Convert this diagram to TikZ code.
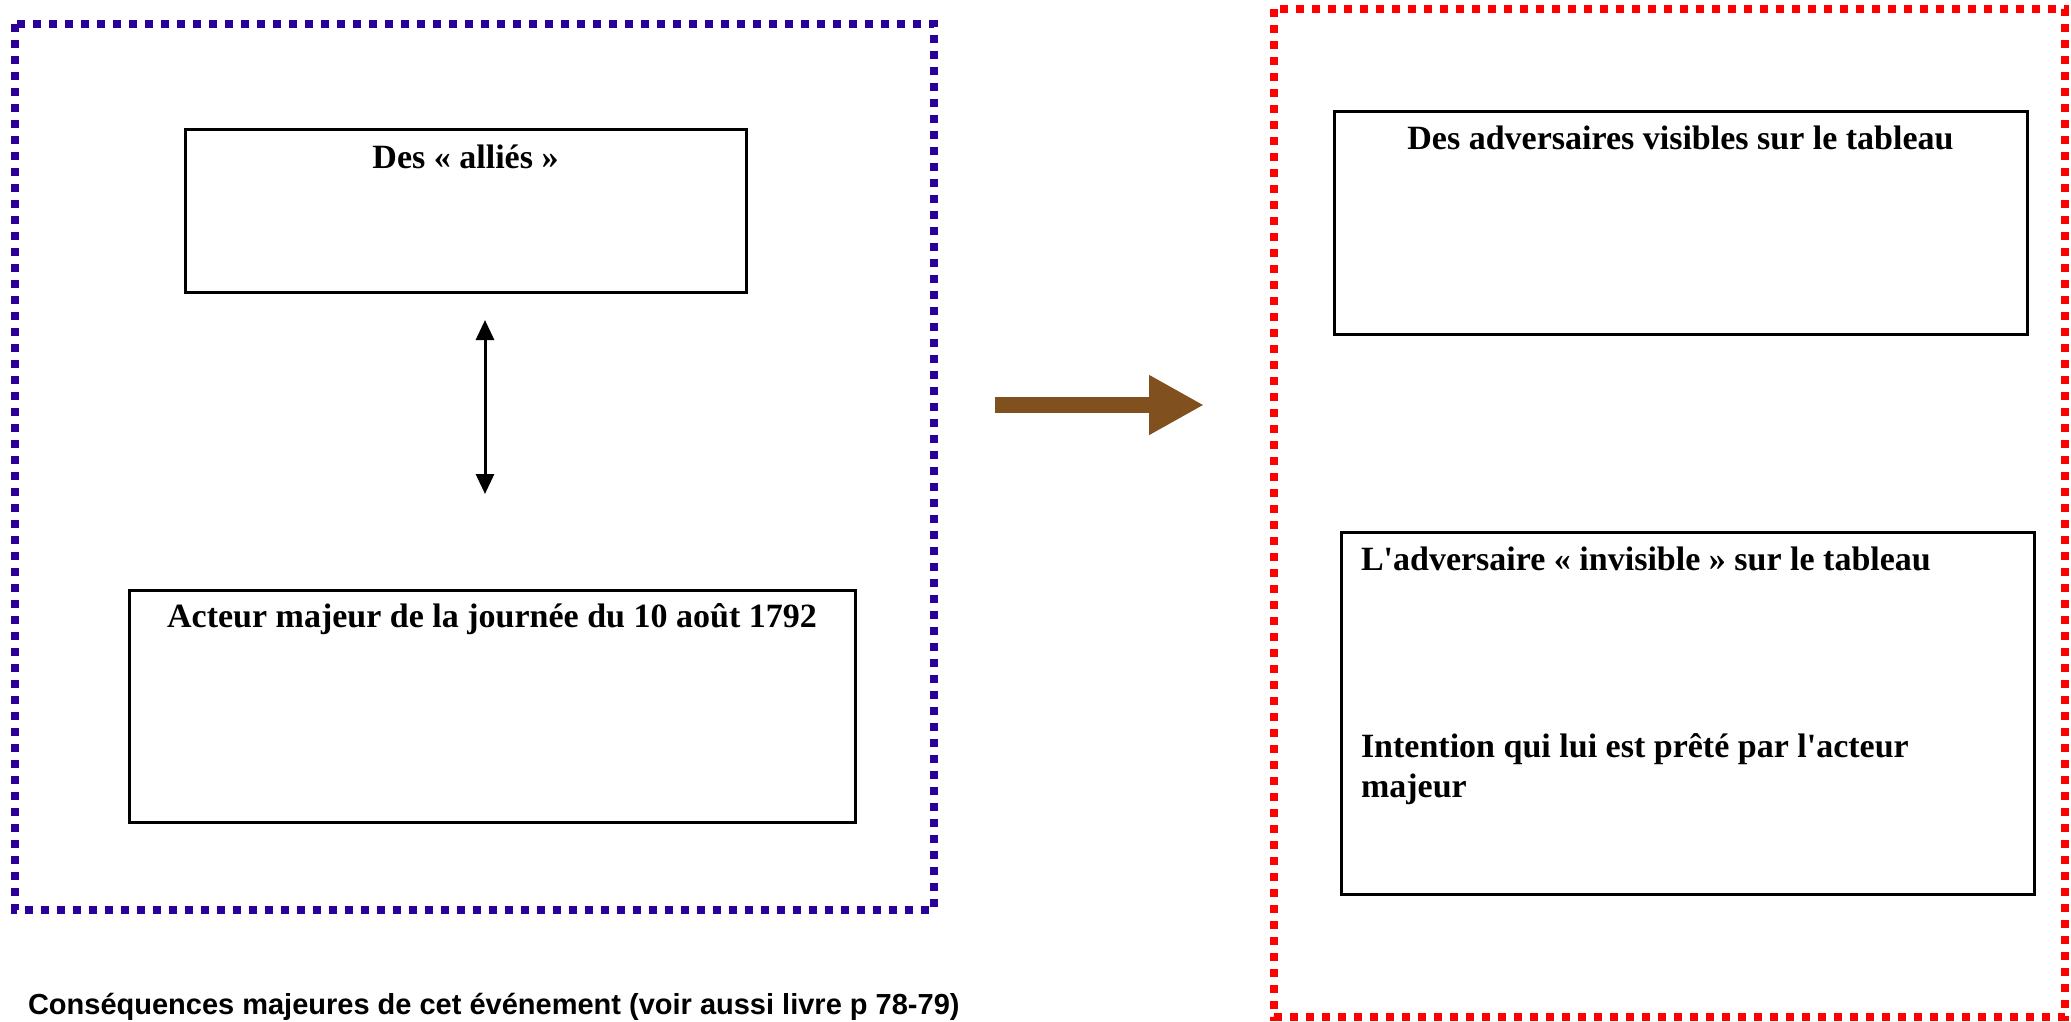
\documentclass[tikz,border=0pt]{standalone}
\usepackage{fontspec}
\setmainfont{Liberation Serif}
\newfontfamily\captionfont{Liberation Sans}
\usetikzlibrary{arrows.meta,positioning}
\definecolor{framebleu}{RGB}{43,0,153}
\definecolor{framerouge}{RGB}{255,0,0}
\definecolor{flechebrune}{RGB}{128,80,30}

\begin{document}
\begin{tikzpicture}[x=1pt, y=-1pt]
  \tikzstyle{every node} = [inner sep = 0, outer sep = 0]
  \tikzstyle{cadre} = [line width = 8pt, dash pattern = on 8pt off 8pt]
  \tikzstyle{boite} = [draw, line width = 3pt, rectangle]
  \tikzstyle{titre} = [font = \fontsize{34}{40}\selectfont\bfseries]
\useasboundingbox (0,0) rectangle (2071,1021);

% les deux cadres
\draw[cadre, framebleu] (15,24) rectangle (934,910);
\draw[cadre, framerouge] (1274,9) rectangle (2065,1017);

% cadre de gauche
\node[boite, minimum width = 561pt, minimum height = 163pt] (allies) at (465.5,210.5) {};
\node[titre, anchor = base] (alliestxt) at ([yshift=-39pt]allies.north) {Des « alliés »};
\node[boite, minimum width = 726pt, minimum height = 232pt] (acteur) at (492,706) {};
\node[titre, anchor = base] (acteurtxt) at ([yshift=-37pt]acteur.north) {Acteur majeur de la journée du 10 août 1792};
\coordinate (haut) at (485,320);
\coordinate (bas) at (485,494);
\draw[line width = 3pt, {Triangle[length=20pt,width=18pt]}-{Triangle[length=20pt,width=18pt]}] (haut) -- (bas);

% fleche entre les cadres
\coordinate (depart) at (995,405);
\coordinate (arrivee) at (1204,405);
\draw[flechebrune, line width = 16pt, -{Triangle[length=55pt,width=56pt]}] (depart) -- (arrivee);

% cadre de droite
\node[boite, minimum width = 693pt, minimum height = 223pt] (visibles) at (1680.5,222.5) {};
\node[titre, anchor = base] (visiblestxt) at ([yshift=-38pt]visibles.north) {Des adversaires visibles sur le tableau};
\node[boite, minimum width = 693pt, minimum height = 362pt] (invisible) at (1687.5,713) {};
\node[titre, anchor = base west] (invisibletxt) at ([xshift=20pt,yshift=-38pt]invisible.north west) {L\textquotesingle adversaire « invisible » sur le tableau};
\node[titre, anchor = base west, align = left] (intention) at ([xshift=20pt,yshift=-265pt]invisible.north west) {Intention qui lui est prêté par l\textquotesingle acteur\\majeur};

\node[font = \captionfont\fontsize{29}{34}\selectfont\bfseries, anchor = base west] (consequences) at (28,1014) {Conséquences majeures de cet événement (voir aussi livre p 78-79)};

\end{tikzpicture}
\end{document}
